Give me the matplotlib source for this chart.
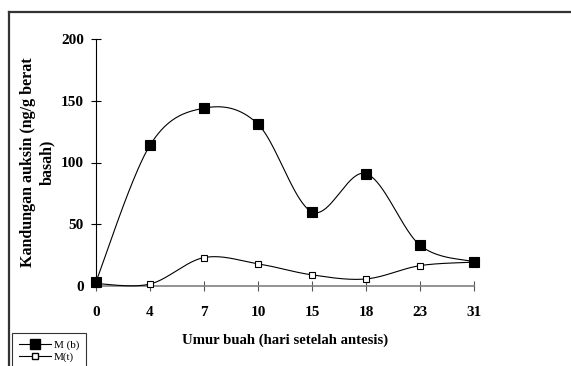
import numpy as np
import matplotlib
matplotlib.use("Agg")
import matplotlib.pyplot as plt
from matplotlib.lines import Line2D

categories = ["0", "4", "7", "10", "15", "18", "23", "31"]
m_b = [3.5, 114, 144, 131, 60, 91, 33, 19.7]
m_t = [2.0, 1.6, 23, 18, 9, 5.7, 16.5, 19.3]
yticks = [0, 50, 100, 150, 200]

plt.rcParams['font.family'] = ['Liberation Serif', 'DejaVu Serif']

def smooth(xs, ys, n=40):
    P = np.column_stack([xs, ys]).astype(float)
    Pe = np.vstack([P[0], P, P[-1]])
    out = []
    for i in range(len(P) - 1):
        p0, p1, p2, p3 = Pe[i], Pe[i + 1], Pe[i + 2], Pe[i + 3]
        c1 = p1 + (p2 - p0) / 6.0
        c2 = p2 - (p3 - p1) / 6.0
        t = np.linspace(0, 1, n)[:, None]
        seg = ((1 - t) ** 3) * p1 + 3 * ((1 - t) ** 2) * t * c1 + 3 * (1 - t) * t ** 2 * c2 + t ** 3 * p2
        out.append(seg if i == 0 else seg[1:])
    S = np.vstack(out)
    return S[:, 0], S[:, 1]

W, H = 571, 366
fig = plt.figure(figsize=(W / 100, H / 100), dpi=100)
ax = fig.add_axes([96 / W, 1 - 286 / H, (474 - 96) / W, (286 - 39) / H])

x = np.arange(len(categories))
for vals, face, ms in [(m_t, 'white', 4.5), (m_b, 'black', 7.5)]:
    sx, sy = smooth(x, vals)
    ax.plot(sx, sy, color='black', lw=0.8, clip_on=False, zorder=3)
    ax.plot(x, vals, ls='none', marker='s', ms=ms, mfc=face, mec='black',
            mew=0.8, clip_on=False, zorder=4)

ax.set_xlim(0, len(categories) - 1)
ax.set_ylim(0, 200)
ax.set_xticks(x)
ax.set_xticklabels(categories, fontsize=11, fontweight='bold')
ax.set_yticks(yticks)
ax.set_yticklabels([str(v) for v in yticks], fontsize=11, fontweight='bold')
ax.tick_params(axis='both', direction='inout', length=7.2, width=0.8)
ax.tick_params(axis='x', pad=11)
ax.tick_params(axis='y', pad=5)
ax.xaxis.set_tick_params(color='#555555')
for s in ['top', 'right']:
    ax.spines[s].set_visible(False)
ax.spines['left'].set_color('black')
ax.spines['left'].set_linewidth(0.8)
ax.spines['bottom'].set_color('#808080')
ax.spines['bottom'].set_linewidth(1.2)
ax.patch.set_alpha(0)

fig.text(28 / W, 1 - 162 / H, "Kandungan auksin (ng/g berat", rotation=90,
         ha='center', va='center', fontsize=11.5, fontweight='bold')
fig.text(47 / W, 1 - 162 / H, "basah)", rotation=90,
         ha='center', va='center', fontsize=11.5, fontweight='bold')
fig.text(285 / W, 1 - 340 / H, "Umur buah (hari setelah antesis)",
         ha='center', va='center', fontsize=10.6, fontweight='bold')

# outer frame (top and left edges only visible)
fy = 1 - 12 / H
fx = 9 / W
fig.lines.append(Line2D([fx, 1.05], [fy, fy], transform=fig.transFigure,
                        color='#333333', lw=1.6))
fig.lines.append(Line2D([fx, fx], [-0.05, fy], transform=fig.transFigure,
                        color='#333333', lw=1.6))

handles = [Line2D([], [], color='black', lw=0.8, marker='s', ms=7.5, mfc='black', mec='black'),
           Line2D([], [], color='black', lw=0.8, marker='s', ms=4.5, mfc='white', mec='black')]
leg = fig.legend(handles, ["M (b)", "M(t)"], loc='upper left',
                 bbox_to_anchor=(12 / W, 1 - 333 / H), fontsize=8,
                 frameon=True, fancybox=False, borderpad=0.6, labelspacing=0.25,
                 handlelength=2.9, handletextpad=0.25, borderaxespad=0)
leg.get_frame().set_edgecolor('black')
leg.get_frame().set_linewidth(0.8)

fig.savefig("out.png", dpi=100)
